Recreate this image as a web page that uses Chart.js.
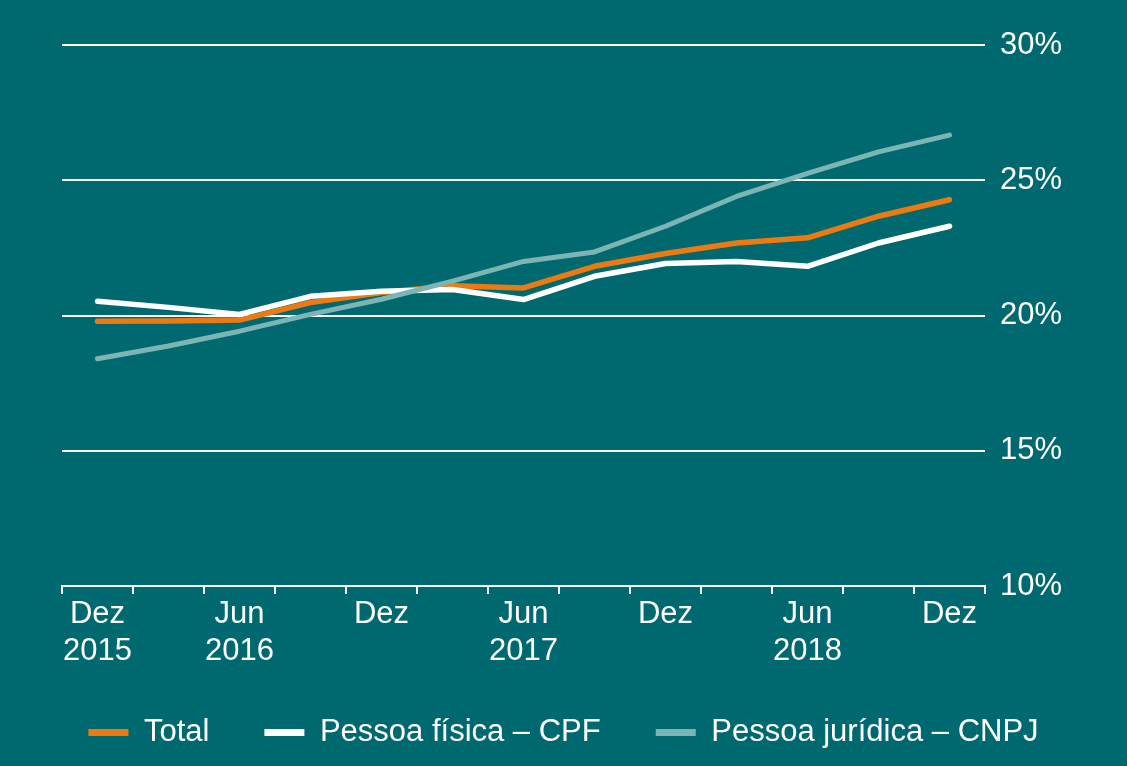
<!DOCTYPE html>
<html>
<head>
<meta charset="utf-8">
<script src="https://cdn.jsdelivr.net/npm/chart.js@4"></script>
<style>
  html, body { margin: 0; padding: 0; background: #006970; }
  #wrap { width: 1127px; height: 766px; }
</style>
</head>
<body>
<div id="wrap"><canvas id="chart" width="1127" height="766"></canvas></div>
<script>
// quarters Dez 2015 .. Dez 2018
const periods = ["Dez 2015", "Mar 2016", "Jun 2016", "Set 2016", "Dez 2016", "Mar 2017", "Jun 2017",
  "Set 2017", "Dez 2017", "Mar 2018", "Jun 2018", "Set 2018", "Dez 2018"];
const tickLabels = [["Dez", "2015"], "", ["Jun", "2016"], "", "Dez", "", ["Jun", "2017"],
  "", "Dez", "", ["Jun", "2018"], "", "Dez"];

const total = [19.79, 19.8, 19.83, 20.48, 20.85, 21.1, 21.02, 21.82, 22.29, 22.68, 22.87, 23.67, 24.28];
const cpf = [20.53, 20.3, 20.04, 20.71, 20.9, 20.96, 20.59, 21.45, 21.92, 22.0, 21.82, 22.68, 23.3];
const cnpj = [18.4, 18.87, 19.42, 20.04, 20.6, 21.27, 22.0, 22.35, 23.3, 24.4, 25.25, 26.05, 26.67];

const yTicks = [10, 15, 20, 25, 30];

const font = { family: "'Liberation Sans', Arial, sans-serif", size: 31 };

const ctx = document.getElementById("chart");

new Chart(ctx, {
  type: "line",
  data: {
    labels: tickLabels,
    datasets: [
      {
        label: "Total",
        data: total,
        borderColor: "#ec7a12",
        backgroundColor: "#ec7a12",
        borderWidth: 5.5,
        order: 3,
      },
      {
        label: "Pessoa física – CPF",
        data: cpf,
        borderColor: "#ffffff",
        backgroundColor: "#ffffff",
        borderWidth: 5.5,
        order: 2,
      },
      {
        label: "Pessoa jurídica – CNPJ",
        data: cnpj,
        borderColor: "#7db4b4",
        backgroundColor: "#7db4b4",
        borderWidth: 5,
        order: 1,
      },
    ],
  },
  options: {
    responsive: false,
    animation: false,
    layout: { padding: { left: 0, top: 45, right: 0, bottom: 8 } },
    elements: {
      point: { radius: 0, hoverRadius: 0 },
      line: { tension: 0, borderCapStyle: "round", borderJoinStyle: "round" },
    },
    scales: {
      x: {
        offset: true,
        grid: {
          offset: true,
          drawOnChartArea: false,
          color: "#ffffff",
          lineWidth: 2,
          tickLength: 8,
        },
        border: { color: "#ffffff", width: 2 },
        ticks: {
          color: "#ffffff",
          font: font,
          autoSkip: false,
          maxRotation: 0,
          padding: 2,
        },
        afterFit: (scale) => { scale.height = 76; },
      },
      y: {
        position: "right",
        min: 10,
        max: 30,
        afterBuildTicks: (scale) => { scale.ticks = yTicks.map((v) => ({ value: v })); },
        grid: { color: "#ffffff", lineWidth: 2, drawTicks: false },
        border: { display: false },
        ticks: {
          color: "#ffffff",
          font: font,
          padding: 15,
          callback: (v) => v + "%",
        },
        afterFit: (scale) => { scale.width = 142; },
      },
      // empty left margin so the legend can span the full width
      yLeft: {
        position: "left",
        display: true,
        grid: { display: false },
        border: { display: false },
        ticks: { display: false },
        afterFit: (scale) => { scale.width = 62; },
      },
    },
    plugins: {
      tooltip: { enabled: false },
      legend: {
        position: "bottom",
        labels: {
          color: "#ffffff",
          font: font,
          boxWidth: 40,
          boxHeight: 7,
          padding: 55,
          generateLabels: (chart) =>
            Chart.defaults.plugins.legend.labels.generateLabels(chart)
              .sort((a, b) => a.datasetIndex - b.datasetIndex)
              .map((l) => ({ ...l, lineWidth: 0 })),
        },
      },
    },
  },
});
</script>
</body>
</html>
